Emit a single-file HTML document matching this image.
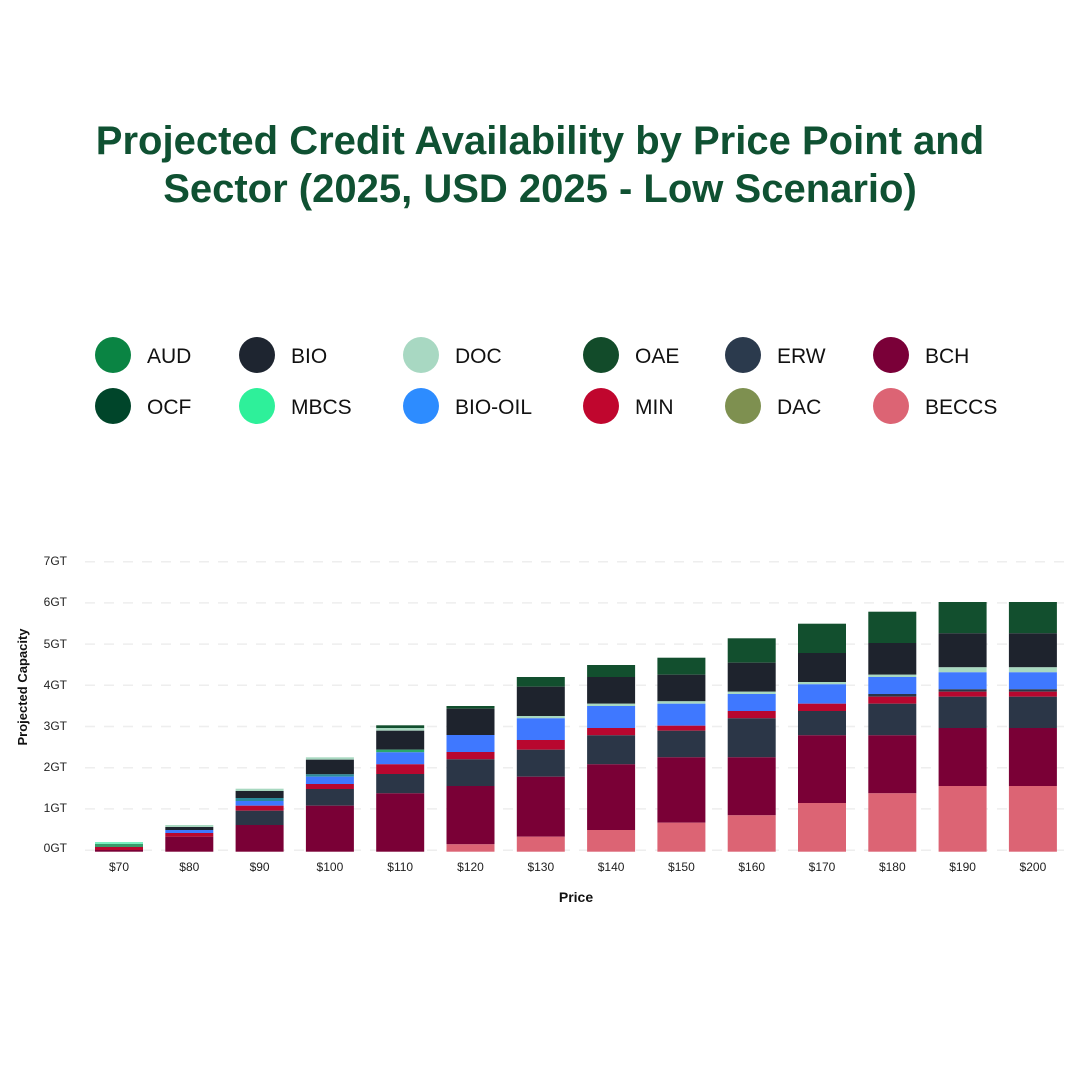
<!DOCTYPE html>
<html><head><meta charset="utf-8"><style>
html,body{margin:0;padding:0;background:#fff;width:1080px;height:1080px;overflow:hidden}
svg{display:block}
</style></head><body>
<svg width="1080" height="1080" viewBox="0 0 1080 1080" xmlns="http://www.w3.org/2000/svg" font-family="Liberation Sans, sans-serif">
<rect width="1080" height="1080" fill="#fff"/>
<g fill="#0f5132" font-weight="bold" font-size="40" text-anchor="middle">
<text x="540" y="154">Projected Credit Availability by Price Point and</text>
<text x="540" y="202">Sector (2025, USD 2025 - Low Scenario)</text>
</g>
<g font-size="21" fill="#111">
<circle cx="113" cy="355" r="18" fill="#0a8443"/><text x="147" y="363">AUD</text>
<circle cx="257" cy="355" r="18" fill="#1e2530"/><text x="291" y="363">BIO</text>
<circle cx="421" cy="355" r="18" fill="#a8d8c2"/><text x="455" y="363">DOC</text>
<circle cx="601" cy="355" r="18" fill="#124b2a"/><text x="635" y="363">OAE</text>
<circle cx="743" cy="355" r="18" fill="#2b3a4d"/><text x="777" y="363">ERW</text>
<circle cx="891" cy="355" r="18" fill="#7a0038"/><text x="925" y="363">BCH</text>
<circle cx="113" cy="406" r="18" fill="#00452a"/><text x="147" y="414">OCF</text>
<circle cx="257" cy="406" r="18" fill="#2ef09a"/><text x="291" y="414">MBCS</text>
<circle cx="421" cy="406" r="18" fill="#2d8cff"/><text x="455" y="414">BIO-OIL</text>
<circle cx="601" cy="406" r="18" fill="#c0062e"/><text x="635" y="414">MIN</text>
<circle cx="743" cy="406" r="18" fill="#7e9050"/><text x="777" y="414">DAC</text>
<circle cx="891" cy="406" r="18" fill="#dc6474"/><text x="925" y="414">BECCS</text>
</g>
<g stroke="#eeeeee" stroke-width="1.5" stroke-dasharray="10,9">
<line x1="85" x2="1070" y1="561.7" y2="561.7"/><line x1="85" x2="1070" y1="602.9" y2="602.9"/>
<line x1="85" x2="1070" y1="644.1" y2="644.1"/><line x1="85" x2="1070" y1="685.3" y2="685.3"/>
<line x1="85" x2="1070" y1="726.5" y2="726.5"/><line x1="85" x2="1070" y1="767.7" y2="767.7"/>
<line x1="85" x2="1070" y1="808.9" y2="808.9"/><line x1="85" x2="1070" y1="850.3" y2="850.3"/>
</g>
<g font-size="12" fill="#222" text-anchor="end">
<text x="67" y="565">7GT</text><text x="67" y="606">6GT</text><text x="67" y="648">5GT</text>
<text x="67" y="689">4GT</text><text x="67" y="730">3GT</text><text x="67" y="771">2GT</text>
<text x="67" y="812">1GT</text><text x="67" y="852">0GT</text>
</g>
<text transform="translate(27,687) rotate(-90)" font-size="13" font-weight="bold" text-anchor="middle" fill="#111">Projected Capacity</text>
<text x="576" y="902" font-size="14" font-weight="bold" text-anchor="middle" fill="#111">Price</text>
<g font-size="12" fill="#222" text-anchor="middle">
<text x="119" y="871">$70</text><text x="189.3" y="871">$80</text><text x="259.6" y="871">$90</text>
<text x="329.9" y="871">$100</text><text x="400.2" y="871">$110</text><text x="470.5" y="871">$120</text>
<text x="540.8" y="871">$130</text><text x="611.1" y="871">$140</text><text x="681.4" y="871">$150</text>
<text x="751.7" y="871">$160</text><text x="822" y="871">$170</text><text x="892.3" y="871">$180</text>
<text x="962.6" y="871">$190</text><text x="1032.9" y="871">$200</text>
</g>
<g transform="translate(95,0)">
<rect y="842" width="48" height="2" fill="#7af0c0"/><rect y="844" width="48" height="3" fill="#3a9a6a"/>
<rect y="847" width="48" height="3" fill="#b8072f"/><rect y="850" width="48" height="1.7" fill="#7a0036"/>
</g>
<g transform="translate(165.3,0)">
<rect y="825" width="48" height="2" fill="#a8d8c0"/><rect y="827" width="48" height="3" fill="#1e232d"/>
<rect y="830" width="48" height="3" fill="#3f78ff"/><rect y="833" width="48" height="3.7" fill="#b8072f"/>
<rect y="836.7" width="48" height="15" fill="#7a0036"/>
</g>
<g transform="translate(235.6,0)">
<rect y="788.7" width="48" height="2.3" fill="#a8d8c0"/><rect y="791" width="48" height="7" fill="#1e232d"/>
<rect y="798" width="48" height="3" fill="#2a8a9a"/><rect y="801" width="48" height="4.7" fill="#3f78ff"/>
<rect y="805.7" width="48" height="5" fill="#b8072f"/><rect y="810.7" width="48" height="14.3" fill="#2b3647"/>
<rect y="825" width="48" height="26.7" fill="#7a0036"/>
</g>
<g transform="translate(305.9,0)">
<rect y="757.3" width="48" height="2.4" fill="#a8d8c0"/><rect y="759.7" width="48" height="14.6" fill="#1e232d"/>
<rect y="774.3" width="48" height="2.4" fill="#2a8a9a"/><rect y="776.7" width="48" height="7.3" fill="#3f78ff"/>
<rect y="784" width="48" height="5" fill="#b8072f"/><rect y="789" width="48" height="16.7" fill="#2b3647"/>
<rect y="805.7" width="48" height="46" fill="#7a0036"/>
</g>
<g transform="translate(376.2,0)">
<rect y="725.3" width="48" height="2.7" fill="#124f2e"/><rect y="728" width="48" height="2.7" fill="#a8d8c0"/>
<rect y="730.7" width="48" height="19" fill="#1e232d"/><rect y="749.7" width="48" height="2.6" fill="#2aa86a"/>
<rect y="752.3" width="48" height="12" fill="#3f78ff"/><rect y="764.3" width="48" height="9.7" fill="#b8072f"/>
<rect y="774" width="48" height="19.3" fill="#2b3647"/><rect y="793.3" width="48" height="58.4" fill="#7a0036"/>
</g>
<g transform="translate(446.5,0)">
<rect y="706" width="48" height="2.7" fill="#124f2e"/><rect y="708.7" width="48" height="26.3" fill="#1e232d"/>
<rect y="735" width="48" height="17" fill="#3f78ff"/><rect y="752" width="48" height="7.3" fill="#b8072f"/>
<rect y="759.3" width="48" height="26.7" fill="#2b3647"/><rect y="786" width="48" height="58.3" fill="#7a0036"/>
<rect y="844.3" width="48" height="7.4" fill="#dc6474"/>
</g>
<g transform="translate(516.8,0)">
<rect y="677" width="48" height="9.7" fill="#124f2e"/><rect y="686.7" width="48" height="29.3" fill="#1e232d"/>
<rect y="716" width="48" height="2.3" fill="#a8d8c0"/><rect y="718.3" width="48" height="21.7" fill="#3f78ff"/>
<rect y="740" width="48" height="9.7" fill="#b8072f"/><rect y="749.7" width="48" height="27" fill="#2b3647"/>
<rect y="776.7" width="48" height="60" fill="#7a0036"/><rect y="836.7" width="48" height="15" fill="#dc6474"/>
</g>
<g transform="translate(587.1,0)">
<rect y="665" width="48" height="12" fill="#124f2e"/><rect y="677" width="48" height="26.7" fill="#1e232d"/>
<rect y="703.7" width="48" height="2.3" fill="#a8d8c0"/><rect y="706" width="48" height="22" fill="#3f78ff"/>
<rect y="728" width="48" height="7.3" fill="#b8072f"/><rect y="735.3" width="48" height="29" fill="#2b3647"/>
<rect y="764.3" width="48" height="65.7" fill="#7a0036"/><rect y="830" width="48" height="21.7" fill="#dc6474"/>
</g>
<g transform="translate(657.4,0)">
<rect y="657.7" width="48" height="17" fill="#124f2e"/><rect y="674.7" width="48" height="26.6" fill="#1e232d"/>
<rect y="701.3" width="48" height="2.4" fill="#a8d8c0"/><rect y="703.7" width="48" height="22" fill="#3f78ff"/>
<rect y="725.7" width="48" height="5" fill="#b8072f"/><rect y="730.7" width="48" height="26.6" fill="#2b3647"/>
<rect y="757.3" width="48" height="65.4" fill="#7a0036"/><rect y="822.7" width="48" height="29" fill="#dc6474"/>
</g>
<g transform="translate(727.7,0)">
<rect y="638.3" width="48" height="24.4" fill="#124f2e"/><rect y="662.7" width="48" height="29" fill="#1e232d"/>
<rect y="691.7" width="48" height="2.3" fill="#a8d8c0"/><rect y="694" width="48" height="17" fill="#3f78ff"/>
<rect y="711" width="48" height="7.3" fill="#b8072f"/><rect y="718.3" width="48" height="39" fill="#2b3647"/>
<rect y="757.3" width="48" height="58" fill="#7a0036"/><rect y="815.3" width="48" height="36.4" fill="#dc6474"/>
</g>
<g transform="translate(798,0)">
<rect y="623.7" width="48" height="29.3" fill="#124f2e"/><rect y="653" width="48" height="29" fill="#1e232d"/>
<rect y="682" width="48" height="2.3" fill="#a8d8c0"/><rect y="684.3" width="48" height="19.4" fill="#3f78ff"/>
<rect y="703.7" width="48" height="7.3" fill="#b8072f"/><rect y="711" width="48" height="24.3" fill="#2b3647"/>
<rect y="735.3" width="48" height="67.7" fill="#7a0036"/><rect y="803" width="48" height="48.7" fill="#dc6474"/>
</g>
<g transform="translate(868.3,0)">
<rect y="611.7" width="48" height="31.3" fill="#124f2e"/><rect y="643" width="48" height="31.7" fill="#1e232d"/>
<rect y="674.7" width="48" height="2.3" fill="#a8d8c0"/><rect y="677" width="48" height="17" fill="#3f78ff"/>
<rect y="694" width="48" height="2.7" fill="#2b3647"/><rect y="696.7" width="48" height="7" fill="#b8072f"/>
<rect y="703.7" width="48" height="31.6" fill="#2b3647"/><rect y="735.3" width="48" height="58" fill="#7a0036"/>
<rect y="793.3" width="48" height="58.4" fill="#dc6474"/>
</g>
<g transform="translate(938.6,0)">
<rect y="602" width="48" height="31.3" fill="#124f2e"/><rect y="633.3" width="48" height="34" fill="#1e232d"/>
<rect y="667.3" width="48" height="5" fill="#a8d8c0"/><rect y="672.3" width="48" height="17" fill="#3f78ff"/>
<rect y="689.3" width="48" height="2.4" fill="#2b3647"/><rect y="691.7" width="48" height="5" fill="#b8072f"/>
<rect y="696.7" width="48" height="31.3" fill="#2b3647"/><rect y="728" width="48" height="58" fill="#7a0036"/>
<rect y="786" width="48" height="65.7" fill="#dc6474"/>
</g>
<g transform="translate(1008.9,0)">
<rect y="602" width="48" height="31.3" fill="#124f2e"/><rect y="633.3" width="48" height="34" fill="#1e232d"/>
<rect y="667.3" width="48" height="5" fill="#a8d8c0"/><rect y="672.3" width="48" height="17" fill="#3f78ff"/>
<rect y="689.3" width="48" height="2.4" fill="#2b3647"/><rect y="691.7" width="48" height="5" fill="#b8072f"/>
<rect y="696.7" width="48" height="31.3" fill="#2b3647"/><rect y="728" width="48" height="58" fill="#7a0036"/>
<rect y="786" width="48" height="65.7" fill="#dc6474"/>
</g>
</svg>
</body></html>
